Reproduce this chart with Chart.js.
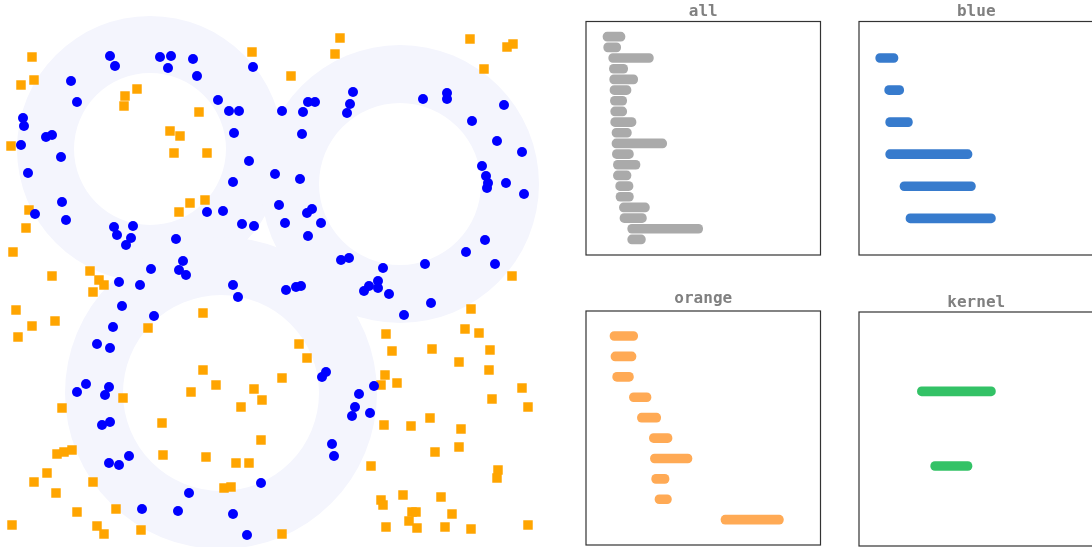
<!DOCTYPE html>
<html>
<head>
<meta charset="utf-8">
<title>Rings and persistence barcodes</title>
<script src="https://cdn.jsdelivr.net/npm/chart.js@4.4.1/dist/chart.umd.min.js"></script>
<style>
  html, body { margin: 0; padding: 0; background: #ffffff; }
  body { position: relative; width: 1092px; height: 547px; overflow: hidden; }
  canvas { position: absolute; display: block; }
</style>
</head>
<body>
<canvas id="scatter"></canvas>
<canvas id="pAll"></canvas>
<canvas id="pBlue"></canvas>
<canvas id="pOrange"></canvas>
<canvas id="pKernel"></canvas>
<script>
// ---- point cloud: blue samples on the rings, orange samples around them ----
const blueX = [110,115,160,171,168,193,197,253,71,77,218,229,239,23,24,46,52,21,234,61,28,249,275,233,62,35,66,279,207,223,242,254,114,133,117,131,126,176,183,151,179,186,
  119,140,233,238,122,154,113,97,110,86,77,109,105,110,102,129,109,119,261,189,142,178,233,247,
  282,303,308,315,353,350,347,423,447,447,504,472,497,522,302,300,482,486,488,487,506,524,307,312,285,321,308,341,349,383,425,466,485,495,
  286,296,301,364,369,378,378,389,431,404,326,322,374,359,355,352,370,332,334];
const blueY = [56,66,57,56,68,59,76,67,81,102,100,111,111,118,126,137,135,145,133,157,173,161,174,182,202,214,220,205,212,211,224,226,227,226,235,238,245,239,261,269,270,275,
  282,285,285,297,306,316,327,344,348,384,392,387,395,422,425,456,463,465,483,493,509,511,514,535,
  111,112,102,102,92,104,113,99,93,99,105,121,141,152,134,179,166,176,183,188,183,194,213,209,223,223,236,260,258,268,264,252,240,264,
  290,287,286,291,286,281,288,294,303,315,372,377,386,394,407,416,413,444,456];

const orangeX = [32,21,34,11,125,137,124,199,170,180,174,207,252,29,26,13,190,205,179,
  52,90,99,104,93,16,32,55,18,148,203,203,216,191,254,262,241,123,62,162,261,163,206,236,249,57,64,72,47,34,93,56,224,231,77,116,12,97,104,141,
  340,335,291,470,507,513,484,
  512,471,465,479,386,392,432,490,459,489,385,381,397,522,492,528,299,307,282,384,411,430,461,459,435,371,498,497,381,383,403,441,452,412,416,409,417,386,445,471,528,282];
const orangeY = [57,85,80,146,96,89,106,112,131,136,153,153,52,210,228,252,203,200,212,
  276,271,280,285,292,310,326,321,337,328,313,370,385,392,389,400,407,398,408,423,440,455,457,463,463,454,452,450,473,482,482,493,488,487,512,509,525,526,534,530,
  38,54,76,39,47,44,69,
  276,309,329,333,334,351,349,350,362,370,375,385,383,388,399,407,344,358,378,425,426,418,429,447,452,466,470,478,500,505,495,497,514,512,512,521,528,527,527,529,525,534];

// shaded annuli: centre, inner and outer radius (same units as the points)
const ringX     = [150, 400, 221];
const ringY     = [149, 184, 393];
const ringInner = [76, 81, 98];
const ringOuter = [133, 139, 156];

// ---- barcodes: [birth, death] per bar, listed top to bottom ----
const allStart = [0.17,0.177,0.227,0.234,0.237,0.24,0.244,0.247,0.247,0.26,0.26,0.264,0.274,0.274,0.297,0.30,0.334,0.34,0.417,0.417];
const allEnd   = [0.39,0.347,0.674,0.417,0.517,0.45,0.407,0.407,0.50,0.454,0.807,0.474,0.54,0.45,0.47,0.474,0.634,0.604,1.167,0.594];
const blueStart = [0.167,0.257,0.267,0.267,0.41,0.47];
const blueEnd   = [0.39,0.447,0.534,1.13,1.164,1.364];
const orangeStart = [0.24,0.25,0.267,0.434,0.514,0.634,0.644,0.657,0.69,1.35];
const orangeEnd   = [0.517,0.50,0.474,0.65,0.747,0.86,1.06,0.83,0.854,1.974];
const kernelStart = [0.584,0.717];
const kernelEnd   = [1.364,1.13];

// ---------------------------------------------------------------------------
const ringPlugin = {
  id: 'rings',
  beforeDatasetsDraw(chart) {
    const { ctx, scales: { x, y } } = chart;
    ctx.save();
    ctx.fillStyle = '#f4f5fd';
    for (let i = 0; i < ringX.length; i++) {
      const cx = x.getPixelForValue(ringX[i]);
      const cy = y.getPixelForValue(ringY[i]);
      const ro = Math.abs(x.getPixelForValue(ringX[i] + ringOuter[i]) - cx);
      const ri = Math.abs(x.getPixelForValue(ringX[i] + ringInner[i]) - cx);
      ctx.beginPath();
      ctx.arc(cx, cy, ro, 0, Math.PI * 2, false);
      ctx.arc(cx, cy, ri, 0, Math.PI * 2, true);
      ctx.fill();
    }
    ctx.restore();
  }
};

function toPoints(xs, ys) { return xs.map((v, i) => ({ x: v, y: ys[i] })); }

const sc = document.getElementById('scatter');
sc.width = 560; sc.height = 547;
sc.style.left = '0px'; sc.style.top = '0px';
sc.style.width = '560px'; sc.style.height = '547px';

new Chart(sc, {
  type: 'scatter',
  data: {
    datasets: [
      { label: 'blue', data: toPoints(blueX, blueY), pointStyle: 'circle', pointRadius: 5,
        backgroundColor: '#0000ff', borderWidth: 0, clip: false },
      { label: 'orange', data: toPoints(orangeX, orangeY), pointStyle: 'rect', pointRadius: 6.7,
        backgroundColor: '#ffa500', borderWidth: 0, clip: false }
    ]
  },
  options: {
    responsive: false, animation: false, events: [],
    layout: { padding: 0, autoPadding: false },
    plugins: { legend: { display: false }, tooltip: { enabled: false } },
    scales: {
      x: { type: 'linear', min: 0, max: 560, display: false },
      y: { type: 'linear', min: 0, max: 547, reverse: true, display: false }
    }
  },
  plugins: [ringPlugin]
});

// ---- barcode panels ----
const framePlugin = {
  id: 'frame',
  afterDraw(chart) {
    const { ctx, chartArea: a } = chart;
    const o = chart.options.plugins.frame;
    ctx.save();
    ctx.strokeStyle = '#333333';
    ctx.lineWidth = 1.2;
    ctx.strokeRect(a.left, a.top, a.right - a.left, a.bottom - a.top);
    ctx.fillStyle = '#808080';
    ctx.font = 'bold 16px "DejaVu Sans Mono"';
    ctx.textAlign = 'center';
    ctx.textBaseline = 'alphabetic';
    ctx.fillText(o.text, (a.left + a.right) / 2, a.top - o.gap);
    ctx.restore();
  }
};

function panel(id, title, gap, box, canvasTop, starts, ends, color, yMin, yMax) {
  const el = document.getElementById(id);
  const pad = 8;
  const left = box.x - pad;
  const w = box.w + 2 * pad;
  const h = box.y + box.h + pad - canvasTop;
  el.width = Math.ceil(w); el.height = Math.ceil(h);
  el.style.left = left + 'px'; el.style.top = canvasTop + 'px';
  el.style.width = Math.ceil(w) + 'px'; el.style.height = Math.ceil(h) + 'px';
  new Chart(el, {
    type: 'bar',
    data: {
      datasets: [{
        label: title,
        data: starts.map((s, i) => ({ x: [s, ends[i]], y: i + 1 })),
        backgroundColor: color,
        borderWidth: 0,
        borderSkipped: false,
        borderRadius: 5,
        barThickness: 9
      }]
    },
    options: {
      indexAxis: 'y',
      responsive: false, animation: false, events: [],
      layout: { autoPadding: false, padding: { left: pad, right: Math.ceil(w) - w + pad, top: box.y - canvasTop, bottom: Math.ceil(h) - h + pad } },
      plugins: { legend: { display: false }, tooltip: { enabled: false }, frame: { text: title, gap: gap } },
      scales: {
        x: { type: 'linear', min: 0, max: box.w / 100, display: false, offset: false },
        y: { type: 'linear', min: yMin, max: yMax, reverse: true, display: false, offset: false }
      }
    },
    plugins: [framePlugin]
  });
}

panel('pAll',    'all',    5.5, { x: 585.5, y: 21.5, w: 234.5, h: 233.5 }, 0,   allStart,    allEnd,    '#aaaaaa', -0.425, 21.46);
panel('pBlue',   'blue',   5.5, { x: 858.5, y: 21.5, w: 234.5, h: 233.5 }, 0,   blueStart,   blueEnd,   '#377bcd', -0.138, 7.143);
panel('pOrange', 'orange', 8,   { x: 585.5, y: 311,  w: 234.5, h: 234   }, 280, orangeStart, orangeEnd, '#ffaa55', -0.225, 11.24);
panel('pKernel', 'kernel', 5,   { x: 858.5, y: 312,  w: 234.5, h: 234   }, 280, kernelStart, kernelEnd, '#33c266', -0.062, 3.071);
</script>
</body>
</html>
